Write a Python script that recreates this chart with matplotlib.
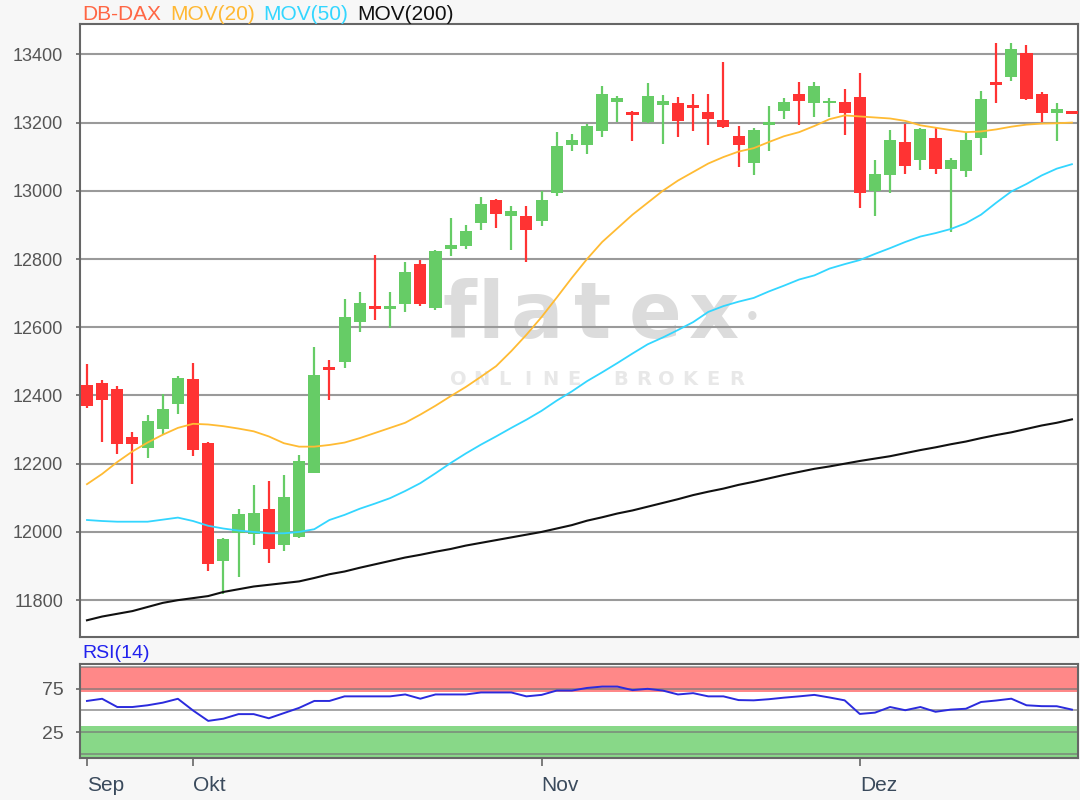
import matplotlib
matplotlib.use('Agg')
import matplotlib.pyplot as plt
import numpy as np

# DB-DAX Tageskerzen (Ende Sep bis Mitte Dez)
opens = [12432, 12437, 12419, 12278, 12246, 12303, 12375, 12449, 12261, 11916,
         11996, 11995, 12066, 11963, 11986, 12174, 12484, 12498, 12616, 12662,
         12654, 12669, 12785, 12656, 12828, 12839, 12905, 12974, 12927, 12925,
         12911, 12993, 13134, 13133, 13174, 13259, 13231, 13202, 13251, 13256,
         13252, 13231, 13207, 13161, 13081, 13193, 13234, 13285, 13258, 13256,
         13261, 13274, 12999, 13045, 13143, 13091, 13156, 13063, 13058, 13156,
         13319, 13334, 13403, 13285, 13228, 13234]
highs = [12491, 12444, 12427, 12292, 12344, 12403, 12457, 12496, 12265, 11982,
         12066, 12138, 12150, 12168, 12226, 12543, 12503, 12684, 12702, 12813,
         12702, 12790, 12797, 12826, 12919, 12901, 12983, 12976, 12955, 12955,
         12999, 13172, 13166, 13197, 13308, 13278, 13233, 13315, 13280, 13274,
         13285, 13285, 13378, 13190, 13185, 13249, 13272, 13319, 13319, 13272,
         13297, 13344, 13091, 13177, 13197, 13185, 13187, 13097, 13169, 13292,
         13432, 13432, 13427, 13290, 13256, 13234]
lows = [12364, 12264, 12228, 12140, 12216, 12287, 12346, 12222, 11885, 11819,
        11869, 11962, 11910, 11944, 11983, 12172, 12386, 12481, 12586, 12621,
        12599, 12646, 12663, 12651, 12810, 12828, 12886, 12891, 12827, 12792,
        12898, 12986, 13116, 13109, 13158, 13202, 13145, 13198, 13138, 13158,
        13174, 13133, 13185, 13069, 13047, 13116, 13210, 13192, 13217, 13217,
        13163, 12949, 12927, 12993, 13050, 13062, 13050, 12880, 13040, 13104,
        13256, 13321, 13267, 13202, 13146, 13224]
closes = [12368, 12386, 12258, 12258, 12324, 12361, 12450, 12239, 11905, 11978,
          12053, 12055, 11951, 12102, 12207, 12460, 12474, 12631, 12672, 12654,
          12662, 12761, 12669, 12824, 12842, 12883, 12962, 12932, 12942, 12885,
          12974, 13131, 13148, 13190, 13283, 13272, 13221, 13278, 13263, 13204,
          13244, 13210, 13187, 13133, 13177, 13201, 13261, 13263, 13308, 13263,
          13229, 12994, 13050, 13150, 13074, 13181, 13065, 13091, 13150, 13268,
          13310, 13415, 13269, 13228, 13240, 13224]

mov20 = [12140, 12170, 12205, 12236, 12262, 12285, 12305, 12317, 12315, 12310,
         12303, 12295, 12280, 12260, 12250, 12250, 12255, 12262, 12275, 12290,
         12305, 12320, 12344, 12370, 12398, 12425, 12455, 12486, 12530, 12578,
         12630, 12687, 12745, 12800, 12850, 12890, 12930, 12965, 13000, 13030,
         13055, 13080, 13099, 13115, 13125, 13143, 13160, 13172, 13190, 13210,
         13221, 13218, 13215, 13212, 13205, 13192, 13185, 13178, 13172, 13174,
         13180, 13188, 13194, 13197, 13198, 13200]
mov50 = [12035, 12032, 12030, 12030, 12030, 12036, 12042, 12032, 12018, 12010,
         12004, 12000, 11996, 11996, 12000, 12008, 12035, 12050, 12068, 12083,
         12099, 12120, 12143, 12172, 12202, 12230, 12256, 12280, 12305, 12329,
         12355, 12385, 12412, 12442, 12468, 12495, 12523, 12550, 12570, 12592,
         12615, 12645, 12662, 12675, 12686, 12705, 12722, 12740, 12752, 12772,
         12785, 12797, 12815, 12832, 12850, 12866, 12876, 12888, 12905, 12930,
         12965, 12998, 13020, 13045, 13065, 13078]
mov200 = [11741, 11752, 11760, 11768, 11780, 11792, 11800, 11806, 11812, 11824,
          11832, 11840, 11845, 11850, 11855, 11865, 11876, 11884, 11895, 11905,
          11915, 11925, 11933, 11942, 11950, 11960, 11968, 11976, 11984, 11992,
          12000, 12010, 12020, 12033, 12043, 12054, 12063, 12074, 12085, 12096,
          12108, 12118, 12127, 12138, 12147, 12157, 12167, 12176, 12185, 12192,
          12200, 12208, 12215, 12222, 12231, 12240, 12248, 12257, 12265, 12275,
          12284, 12292, 12302, 12312, 12320, 12330]
rsi14 = [61, 63.5, 54, 54, 56, 59, 63.5, 50, 38, 40.5,
         45.8, 45.8, 41, 47, 53, 61, 61, 66.3, 66.3, 66.3,
         66.3, 68.5, 63.6, 68.5, 68.5, 68.5, 70.8, 70.8, 70.8, 66.3,
         68, 73, 73, 76, 77.6, 77.6, 73.5, 75, 73, 68.5,
         70, 66.3, 66.3, 62, 61.7, 63, 64.8, 66.3, 68, 65,
         61.7, 46, 47.5, 54, 50.3, 54, 48.5, 51, 52, 59.8,
         61.5, 63.6, 56, 55, 54.9, 51]

month_labels = ['Sep', 'Okt', 'Nov', 'Dez']
month_pos = [0, 7, 30, 51]
price_ticks = [11800, 12000, 12200, 12400, 12600, 12800, 13000, 13200, 13400]
rsi_ticks = [25, 75]

plt.rcParams['font.family'] = ['Liberation Sans', 'DejaVu Sans']

fig = plt.figure(figsize=(10.8, 8), dpi=100, facecolor='#f7f7f7')
ax = fig.add_axes([80/1080, 1-637/800, 998/1080, 613/800])
ax2 = fig.add_axes([80/1080, 1-757.7/800, 998/1080, 93.4/800])

x = np.arange(len(opens))
o = np.array(opens); c = np.array(closes)
up = c >= o
cols = np.where(up, '#66cc66', '#ff3333')

# Gitter
for v in price_ticks:
    ax.axhline(v, color='#9a9a9a', lw=1.5, zorder=1)

# Kerzen
ax.vlines(x, lows, highs, colors=cols, lw=1.6, zorder=3)
ax.bar(x, np.abs(c - o), bottom=np.minimum(o, c), width=0.8, color=cols,
       linewidth=0, zorder=4)

# gleitende Durchschnitte
ax.plot(x, mov20, color='#ffbb33', lw=1.3, zorder=5)
ax.plot(x, mov50, color='#33d6ff', lw=1.3, zorder=5)
ax.plot(x, mov200, color='#111111', lw=1.5, zorder=5)

ax.set_xlim(-0.46, 65.4)
ax.set_ylim(11692, 13489)
ax.set_xticks([])
ax.set_yticks(price_ticks)
ax.tick_params(axis='y', length=3, width=1.2, color='#666666', pad=9,
               labelsize=13, labelcolor='#555555')
for s in ax.spines.values():
    s.set_color('#666666'); s.set_linewidth(1.5)

# Wasserzeichen
for ch, px in zip('flatex', [459, 491, 537, 593, 655, 714]):
    ax.text((px-80)/998, 0.488, ch, transform=ax.transAxes, ha='center',
            va='baseline', fontsize=56, fontweight='bold', color='#dcdcdc',
            family='DejaVu Sans', zorder=0.5)
ax.text((752-80)/998, (637-318)/613, '•', transform=ax.transAxes, ha='center',
        va='center', fontsize=22, color='#dcdcdc', zorder=0.5)
for k, ch in enumerate('ONLINE BROKER'):
    ax.text((458 + k*23.2 - 80)/998, 0.411, ch, transform=ax.transAxes,
            ha='center', va='baseline', fontsize=14, fontweight='bold',
            color='#e8e8e8', family='DejaVu Sans', zorder=0.5)

# Kopfzeile
fig.text(82/1080, 1-14/800, 'DB-DAX', color='#ff6644', fontsize=15, va='center')
fig.text(170/1080, 1-14/800, 'MOV(20)', color='#ffb833', fontsize=15, va='center')
fig.text(263/1080, 1-14/800, 'MOV(50)', color='#33d6ff', fontsize=15, va='center')
fig.text(357/1080, 1-14/800, 'MOV(200)', color='#111111', fontsize=15, va='center')

# RSI
ax2.set_facecolor('white')
ax2.axhspan(71.5, 100, color='#ff8888', lw=0, zorder=1)
ax2.axhspan(-10, 32.5, color='#88d888', lw=0, zorder=1)
for v in [0, 25, 50, 75, 100]:
    ax2.axhline(v, color='#777777', lw=1.3, alpha=0.7, zorder=2)
ax2.plot(x, rsi14, color='#2b2bdd', lw=1.4, zorder=3)
ax2.set_xlim(-0.46, 65.4)
ax2.set_ylim(-4.5, 103.3)
ax2.set_yticks(rsi_ticks)
ax2.set_xticks(month_pos)
ax2.set_xticklabels(month_labels, ha='left')
ax2.tick_params(axis='y', length=3, width=1.2, color='#666666', pad=9,
                labelsize=14, labelcolor='#555555')
ax2.tick_params(axis='x', length=6, width=1.2, color='#666666', pad=7,
                labelsize=15, labelcolor='#3a4a5c')
for s in ax2.spines.values():
    s.set_color('#666666'); s.set_linewidth(1.5)
fig.text(82/1080, 1-654/800, 'RSI(14)', color='#2222ee', fontsize=14, va='center')

fig.savefig('out.png', dpi=100, facecolor=fig.get_facecolor())
